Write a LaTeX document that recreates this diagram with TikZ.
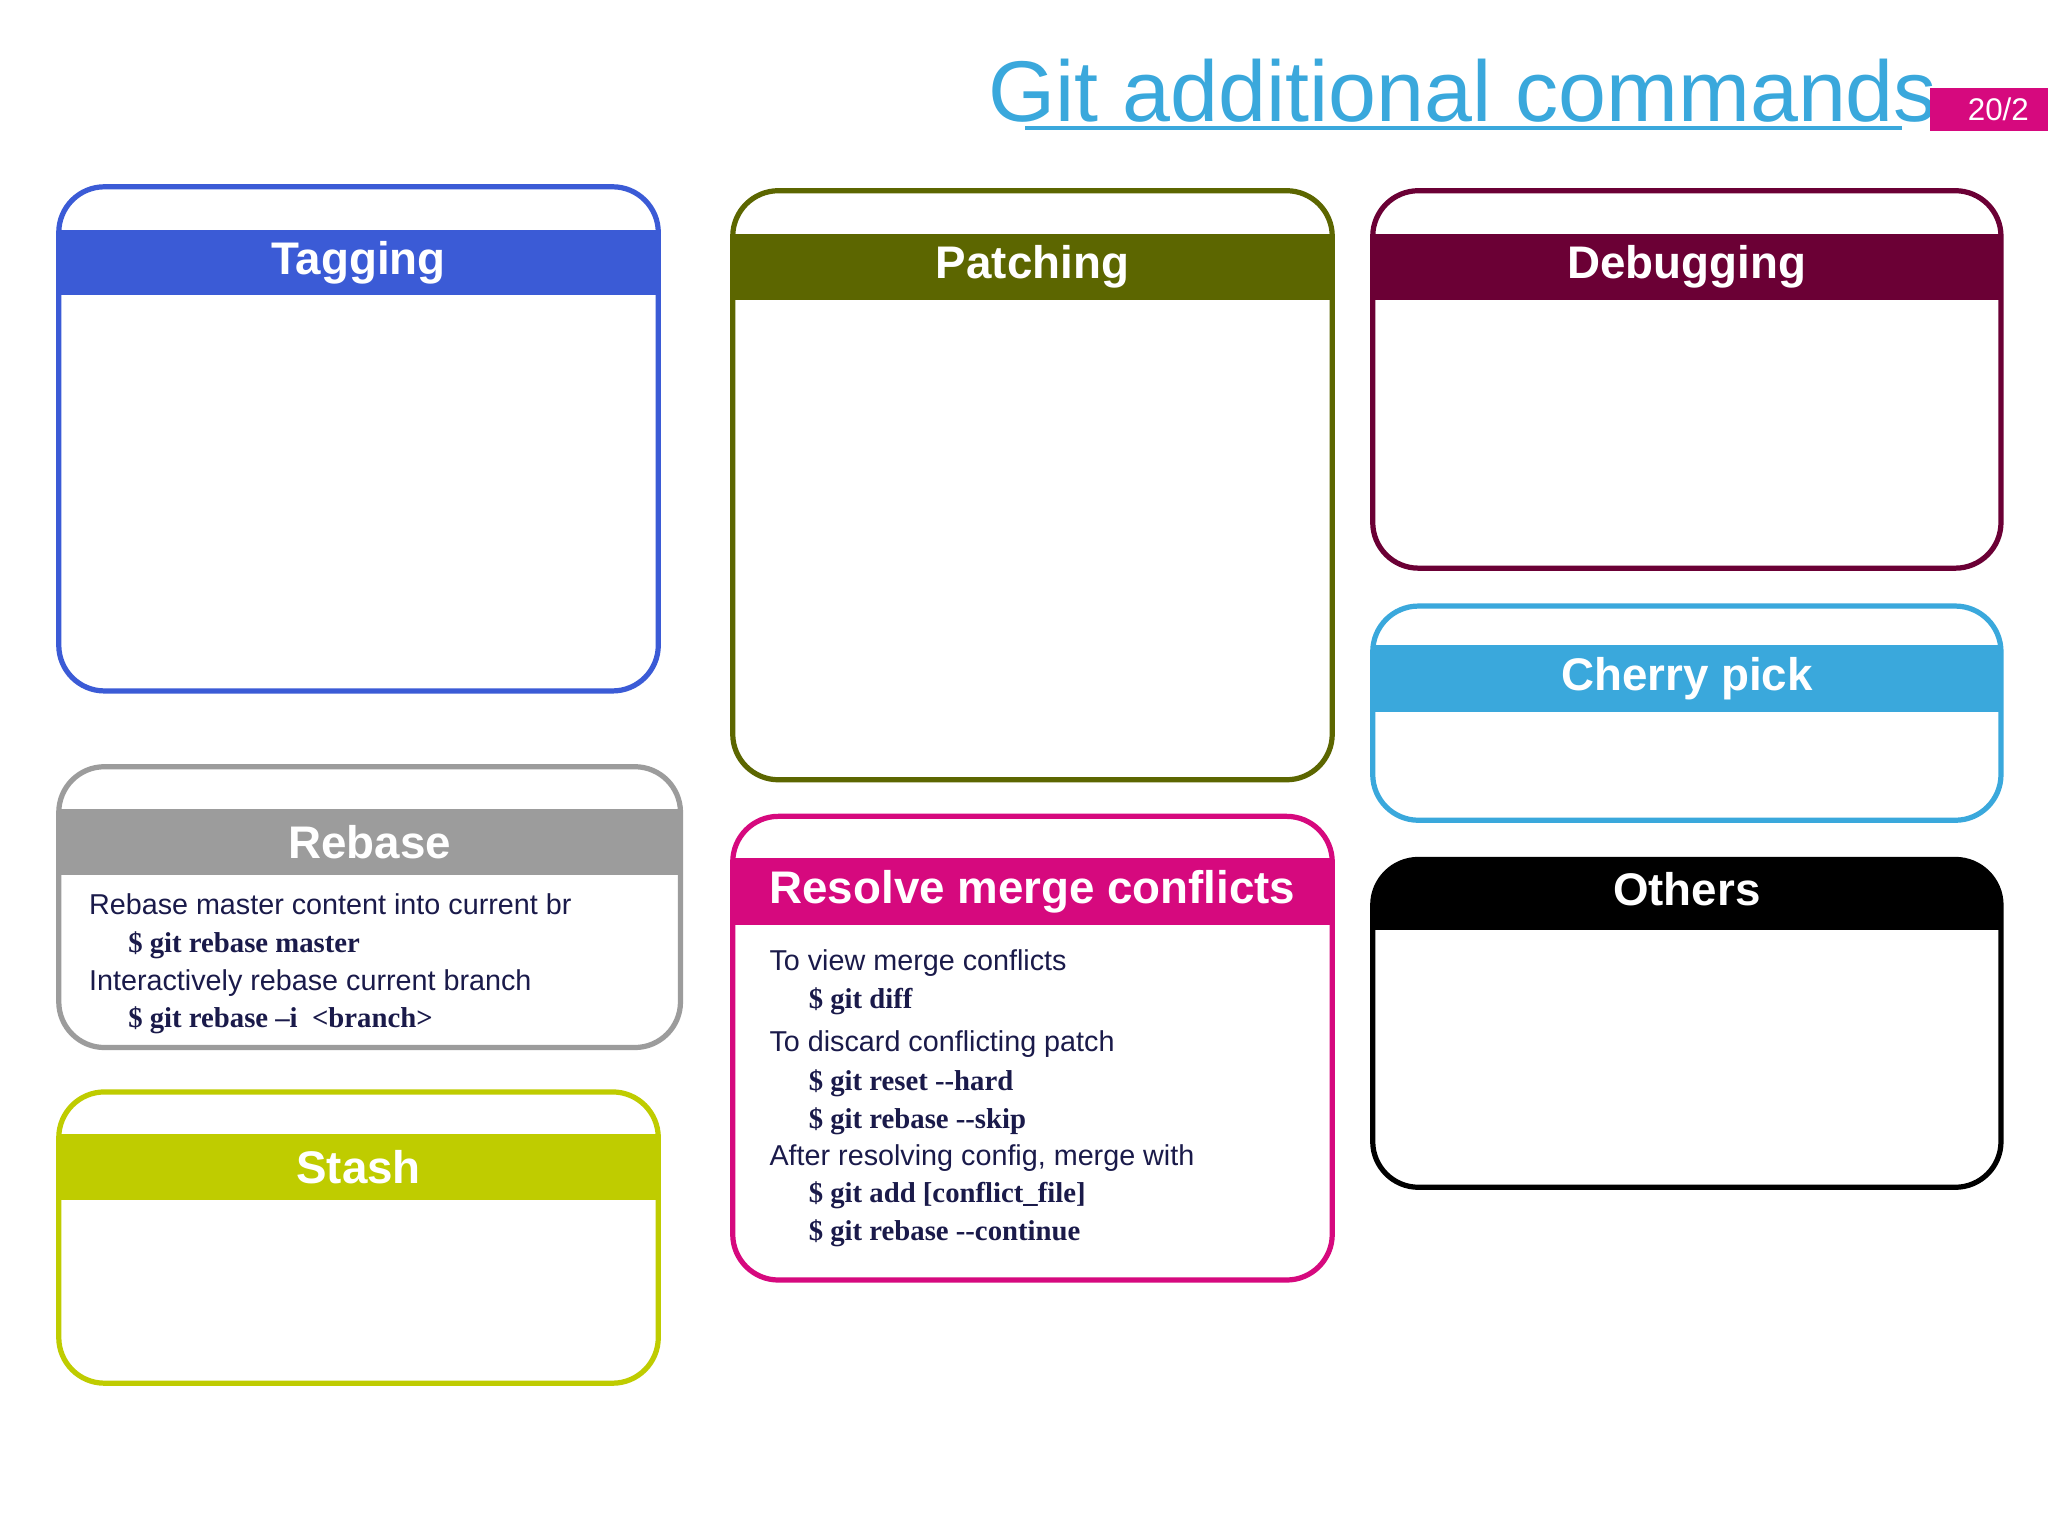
\documentclass[tikz,border=0pt]{standalone}
\usepackage{fontspec}
\setmainfont{Liberation Serif}
\setsansfont{Liberation Sans}
\definecolor{cblue}{HTML}{3B5BD6}
\definecolor{colive}{HTML}{5C6600}
\definecolor{cwine}{HTML}{6B0035}
\definecolor{ccyan}{HTML}{3AA8DC}
\definecolor{cgrey}{HTML}{9C9C9C}
\definecolor{clime}{HTML}{BFCC00}
\definecolor{cmag}{HTML}{D6097E}
\definecolor{ctext}{HTML}{1A1A4A}
\tikzset{
 hdr/.style={text=white,font=\sffamily\bfseries\fontsize{35}{40}\selectfont},
 body/.style={anchor=base west,text=ctext,font=\sffamily\fontsize{22}{26}\selectfont,inner sep=0pt},
 cmd/.style={anchor=base west,text=ctext,font=\rmfamily\bfseries\fontsize{22}{26}\selectfont,inner sep=0pt},
}
\newcommand{\gbox}[9]{%
 \begin{scope}
 \clip[rounded corners=35pt] (#2,#3) rectangle (#4,#5);
 \fill[#8] (#2,#6) rectangle (#4,#7);
 \end{scope}
 \draw[#8,line width=4pt,rounded corners=35pt] (#2,#3) rectangle (#4,#5);
 \node[hdr] (#1) at ({(#2+#4)/2},{(#6+#7)/2}) {#9};
}
\begin{document}
\begin{tikzpicture}[x=1pt,y=-1pt]
\useasboundingbox[fill=white] (0,0) rectangle (1568,1176);
\node[anchor=base,text=ccyan,font=\sffamily\fontsize{66}{70}\selectfont,inner sep=0pt] (title) at (1120,93) {Git additional commands};
\draw[ccyan,line width=3pt] (785,98) -- (1456,98);
\fill[cmag] (1478,67) rectangle (1568,100);
\node[text=white,font=\sffamily\fontsize{24}{28}\selectfont] (pg) at (1530,84) {20/2};
\gbox{tag}{45}{143}{504}{529}{176}{226}{cblue}{Tagging}
\gbox{pat}{561}{146}{1020}{597}{179}{230}{colive}{Patching}
\gbox{dbg}{1051}{146}{1532}{435}{179}{230}{cwine}{Debugging}
\gbox{chp}{1051}{464}{1532}{628}{494}{545}{ccyan}{Cherry pick}
\gbox{oth}{1051}{658}{1532}{909}{650}{712}{black}{Others}
\gbox{reb}{45}{587}{521}{802}{619}{670}{cgrey}{Rebase}
\gbox{sta}{45}{836}{504}{1059}{868}{919}{clime}{Stash}
\gbox{res}{561}{625}{1020}{980}{657}{708}{cmag}{Resolve merge conflicts}
\node[body] (r1) at (68,700) {Rebase master content into current br};
\node[cmd] (r2) at (98,729) {\$ git rebase master};
\node[body] (r3) at (68,758) {Interactively rebase current branch};
\node[cmd] (r4) at (98,787) {\$ git rebase –i~ <branch>};
\node[body] (m1) at (589,743) {To view merge conflicts};
\node[cmd] (m2) at (619,772) {\$ git diff};
\node[body] (m3) at (589,805) {To discard conflicting patch};
\node[cmd] (m4) at (619,835) {\$ git reset -{}-hard};
\node[cmd] (m5) at (619,864) {\$ git rebase -{}-skip};
\node[body] (m6) at (589,892) {After resolving config, merge with};
\node[cmd] (m7) at (619,921) {\$ git add [conflict\_file]};
\node[cmd] (m8) at (619,950) {\$ git rebase -{}-continue};
\end{tikzpicture}
\end{document}
